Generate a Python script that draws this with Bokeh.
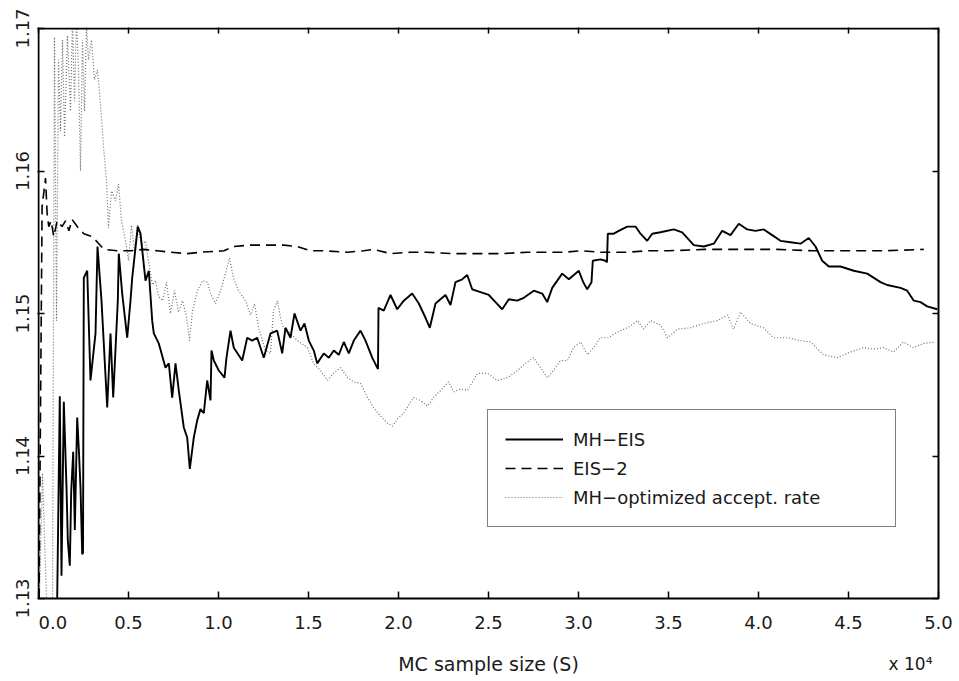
from bokeh.plotting import figure
from bokeh.models import (Range1d, FixedTicker, CustomJSTickFormatter, LinearAxis,
                          Legend, LegendItem, Label)
from bokeh.embed import file_html
from bokeh.resources import INLINE

# ---------------- data (x = MC sample size S, y = estimate) ----------------
mh_eis_x = [1039, 1183, 1278, 1406, 1556, 1628, 1739, 1817, 1928, 2017, 2150, 2239, 2333, 2428,
            2472, 2517, 2706, 2889, 3167, 3278, 3500, 3817, 4000, 4150, 4406, 4461, 4650, 4928,
            5111, 5206, 5517, 5667, 5944, 6128, 6317, 6406, 6683, 7056, 7239, 7428, 7611, 7794,
            8072, 8261, 8406, 8628, 8817, 9000, 9183, 9372, 9556, 9611, 9739, 10017, 10333,
            10444, 10667, 10850, 11317, 11594, 11872, 12150, 12517, 12889, 13261, 13539, 13722,
            14000, 14222, 14556, 14778, 15017, 15294, 15483, 15850, 16128, 16406, 16683, 16961,
            17239, 17517, 17889, 18167, 18539, 18817, 18861, 18889, 19183, 19556, 19928, 20294,
            20761, 21128, 21500, 21739, 22056, 22611, 22889, 23167, 23539, 23817, 24094, 24556,
            25017, 25389, 25761, 26128, 26594, 26961, 27517, 27983, 28261, 28539, 29094, 29461,
            29739, 30017, 30261, 30483, 30722, 30794, 31222, 31500, 31583, 31628, 31961, 32239,
            32706, 33167, 33444, 33817, 34094, 34556, 35294, 35761, 36406, 36961, 37517, 37983,
            38444, 38906, 39372, 39833, 40294, 40761, 41222, 41778, 42333, 42794, 43167, 43539,
            43906, 44556, 45294, 46039, 46778, 47150, 47889, 48261, 48628, 49000, 49372, 49928]
mh_eis_y = [1.1300, 1.1442, 1.1316, 1.1438, 1.1378, 1.1341, 1.1323, 1.1375, 1.1403, 1.1348,
            1.1427, 1.1405, 1.1378, 1.1331, 1.1332, 1.1525, 1.1530, 1.1453, 1.1486, 1.1547,
            1.1509, 1.1434, 1.1486, 1.1441, 1.1509, 1.1542, 1.1514, 1.1483, 1.1509, 1.1525,
            1.1561, 1.1556, 1.1523, 1.1530, 1.1495, 1.1486, 1.1479, 1.1462, 1.1465, 1.1441,
            1.1465, 1.1446, 1.1420, 1.1413, 1.1391, 1.1413, 1.1425, 1.1433, 1.1430, 1.1453,
            1.1439, 1.1474, 1.1467, 1.1460, 1.1455, 1.1469, 1.1488, 1.1476, 1.1467, 1.1483,
            1.1481, 1.1483, 1.1469, 1.1486, 1.1488, 1.1472, 1.1490, 1.1483, 1.1500, 1.1488,
            1.1493, 1.1481, 1.1474, 1.1465, 1.1472, 1.1469, 1.1474, 1.1471, 1.1480, 1.1472,
            1.1481, 1.1488, 1.1481, 1.1469, 1.1462, 1.1461, 1.1504, 1.1502, 1.1513, 1.1503,
            1.1509, 1.1514, 1.1507, 1.1497, 1.1490, 1.1507, 1.1513, 1.1506, 1.1522, 1.1524,
            1.1527, 1.1517, 1.1515, 1.1513, 1.1508, 1.1503, 1.1510, 1.1509, 1.1511, 1.1516,
            1.1514, 1.1508, 1.1518, 1.1528, 1.1524, 1.1527, 1.1530, 1.1522, 1.1517, 1.1522,
            1.1537, 1.1538, 1.1537, 1.1536, 1.1556, 1.1556, 1.1558, 1.1561, 1.1561, 1.1556,
            1.1551, 1.1556, 1.1557, 1.1559, 1.1557, 1.1548, 1.1547, 1.1549, 1.1558, 1.1555,
            1.1563, 1.1559, 1.1558, 1.1559, 1.1555, 1.1551, 1.1550, 1.1549, 1.1553, 1.1547,
            1.1537, 1.1533, 1.1533, 1.1530, 1.1528, 1.1522, 1.1520, 1.1518, 1.1516, 1.1509,
            1.1508, 1.1505, 1.1503]

eis2_x = [30, 200, 390, 480, 570, 700, 850, 1040, 1310, 1500, 1690, 1870, 2150, 2520, 2980,
          3350, 3630, 4370, 5110, 5850, 6590, 7330, 8260, 9000, 10300, 10850, 11780, 12890,
          13630, 14370, 15110, 15850, 17150, 18070, 18630, 19560, 20670, 21590, 23070, 24370,
          25670, 27150, 28260, 29180, 30110, 31220, 32700, 33820, 35000, 37000, 39000, 41000,
          43000, 45000, 47000, 49180]
eis2_y = [1.1300, 1.1575, 1.1595, 1.1570, 1.1561, 1.1565, 1.1554, 1.1565, 1.1561, 1.1565,
          1.1558, 1.1566, 1.1561, 1.1556, 1.1554, 1.1549, 1.1545, 1.1544, 1.1544, 1.1545,
          1.1544, 1.1543, 1.1542, 1.1543, 1.1544, 1.1547, 1.1548, 1.1548, 1.1548, 1.1547,
          1.1544, 1.1544, 1.1543, 1.1544, 1.1545, 1.1542, 1.1543, 1.1543, 1.1542, 1.1542,
          1.1542, 1.1543, 1.1543, 1.1543, 1.1544, 1.1543, 1.1543, 1.1544, 1.1544, 1.1545,
          1.1545, 1.1545, 1.1544, 1.1544, 1.1544, 1.1545]

mh_opt_x = [50, 222, 444, 778, 889, 1000, 1111, 1222, 1333, 1444, 1611, 1778, 1889, 2000,
            2111, 2222, 2333, 2444, 2556, 2667, 2778, 2944, 3111, 3278, 3444, 3611, 3778, 3889,
            4056, 4278, 4444, 4611, 4833, 5000, 5167, 5333, 5500, 5722, 5944, 6111, 6333, 6500,
            6667, 6889, 7111, 7333, 7556, 7778, 8000, 8222, 8389, 8556, 8833, 9111, 9389, 9556,
            9833, 10111, 10389, 10611, 10833, 11111, 11500, 11778, 12000, 12222, 12444, 12611,
            12889, 13056, 13278, 13444, 13611, 14000, 14389, 14944, 15278, 15667, 16056, 16389,
            16778, 17167, 17500, 17889, 18278, 18611, 19000, 19389, 19667, 19944, 20278, 20833,
            21222, 21611, 21944, 22333, 22778, 23056, 23444, 23833, 24389, 24944, 25500, 26056,
            26611, 27056, 27500, 27889, 28278, 28611, 29000, 29389, 29722, 30111, 30500, 30833,
            31222, 31667, 32167, 32722, 33278, 33611, 34000, 34556, 34944, 35500, 36222, 36944,
            37722, 38278, 38611, 39000, 39556, 40278, 40833, 41611, 42333, 42889, 43611, 44389,
            45111, 45833, 46389, 46944, 47500, 48056, 48611, 49167, 49833]
mh_opt_y = [1.1300, 1.1388, 1.1300, 1.1300, 1.1694, 1.1495, 1.1678, 1.1628, 1.1692, 1.1624,
            1.1695, 1.1642, 1.1706, 1.1649, 1.1709, 1.1671, 1.1600, 1.1692, 1.1642, 1.1702,
            1.1678, 1.1692, 1.1664, 1.1671, 1.1647, 1.1617, 1.1593, 1.1560, 1.1586, 1.1579,
            1.1591, 1.1565, 1.1551, 1.1537, 1.1562, 1.1544, 1.1562, 1.1548, 1.1551, 1.1537,
            1.1520, 1.1523, 1.1512, 1.1509, 1.1522, 1.1500, 1.1516, 1.1501, 1.1509, 1.1498,
            1.1481, 1.1502, 1.1516, 1.1523, 1.1522, 1.1514, 1.1507, 1.1516, 1.1528, 1.1539,
            1.1525, 1.1516, 1.1509, 1.1499, 1.1507, 1.1490, 1.1481, 1.1474, 1.1472, 1.1502,
            1.1509, 1.1497, 1.1490, 1.1486, 1.1481, 1.1476, 1.1465, 1.1460, 1.1453, 1.1458,
            1.1462, 1.1455, 1.1452, 1.1451, 1.1441, 1.1434, 1.1428, 1.1423, 1.1421, 1.1426,
            1.1430, 1.1441, 1.1439, 1.1435, 1.1441, 1.1446, 1.1452, 1.1445, 1.1447, 1.1446,
            1.1458, 1.1458, 1.1453, 1.1455, 1.1460, 1.1465, 1.1469, 1.1462, 1.1455, 1.1460,
            1.1467, 1.1467, 1.1476, 1.1480, 1.1471, 1.1476, 1.1483, 1.1483, 1.1487, 1.1490,
            1.1495, 1.1489, 1.1495, 1.1492, 1.1483, 1.1489, 1.1490, 1.1493, 1.1495, 1.1499,
            1.1489, 1.1501, 1.1493, 1.1490, 1.1483, 1.1483, 1.1481, 1.1480, 1.1471, 1.1469,
            1.1473, 1.1476, 1.1475, 1.1476, 1.1473, 1.1480, 1.1476, 1.1479, 1.1480]

x_ticks = [0, 5000, 10000, 15000, 20000, 25000, 30000, 35000, 40000, 45000, 50000]
y_ticks = [1.13, 1.14, 1.15, 1.16, 1.17]
series_names = ["MH\u2212EIS", "EIS\u22122", "MH\u2212optimized accept. rate"]
x_label = "MC sample size (S)"
x_scale_note = "x 10\u2074"

X0, X1 = 0, 50000
Y0, Y1 = 1.13, 1.17

# layout (pixels)
BOX_W, BOX_H = 900, 570      # data box
PAD = 1                      # frame 1px larger than data box at left/top
EXT_R = 17                   # room right of the box (last tick label)
EXT_B = 80                   # room under the box for the x-axis texts
px_x = (X1 - X0) / BOX_W
px_y = (Y1 - Y0) / BOX_H

FONT = "DejaVu Sans"
INK = "#1a1a1a"

p = figure(output_backend="svg", toolbar_location=None,
           x_range=Range1d(X0 - PAD * px_x, X1 + EXT_R * px_x),
           y_range=Range1d(Y0 - EXT_B * px_y, Y1 + PAD * px_y),
           frame_width=BOX_W + PAD + EXT_R, frame_height=BOX_H + PAD + EXT_B,
           min_border_left=37, min_border_top=27, min_border_right=2, min_border_bottom=0)
p.background_fill_color = "white"
p.border_fill_color = "white"
p.outline_line_color = None
p.grid.visible = False

xfmt = CustomJSTickFormatter(code="return tick == 0 ? '' : (tick/10000).toFixed(1);")
yfmt = CustomJSTickFormatter(code="return tick.toFixed(2);")
blank = CustomJSTickFormatter(code="return '';")

xa = p.xaxis[0]
xa.ticker = FixedTicker(ticks=x_ticks)
xa.formatter = xfmt
xa.fixed_location = Y0
ya = p.yaxis[0]
ya.ticker = FixedTicker(ticks=y_ticks)
ya.formatter = yfmt
ya.major_label_orientation = "vertical"

for ax in (xa, ya):
    ax.axis_line_color = None
    ax.major_tick_in = 7
    ax.major_tick_out = 0
    ax.major_tick_line_color = "black"
    ax.major_tick_line_width = 1.5
    ax.minor_tick_line_color = None
    ax.major_label_text_font = FONT
    ax.major_label_text_font_size = "18px"
    ax.major_label_text_color = INK
xa.major_label_standoff = 17
ya.major_label_standoff = 9

top = LinearAxis(ticker=FixedTicker(ticks=x_ticks), formatter=blank, axis_line_color=None,
                 major_tick_in=6, major_tick_out=0, minor_tick_line_color=None,
                 major_label_standoff=0, major_tick_line_width=1.5)
right = LinearAxis(ticker=FixedTicker(ticks=y_ticks), formatter=blank, axis_line_color=None,
                   major_tick_in=6, major_tick_out=0, minor_tick_line_color=None,
                   major_label_standoff=0, major_tick_line_width=1.5, fixed_location=X1)
p.add_layout(top, "above")
p.add_layout(right, "right")

r_opt = p.line(mh_opt_x, mh_opt_y, line_color="#6e6e6e", line_width=1.2, line_dash="1 2")
r_eis2 = p.line(eis2_x, eis2_y, line_color="black", line_width=1.6, line_dash="10 6")
r_mh = p.line(mh_eis_x, mh_eis_y, line_color="black", line_width=1.9)

# frame box around the data area
p.quad(left=[X0], right=[X1], bottom=[Y0], top=[Y1], fill_color=None,
       line_color="black", line_width=2)

legend = Legend(items=[LegendItem(label=series_names[0], renderers=[r_mh]),
                       LegendItem(label=series_names[1], renderers=[r_eis2]),
                       LegendItem(label=series_names[2], renderers=[r_opt])],
                location=(450, 151), orientation="vertical",
                border_line_color="black", border_line_width=1.5,
                background_fill_color="white", background_fill_alpha=1,
                label_text_font=FONT, label_text_font_size="18px", label_text_color=INK,
                glyph_width=58, glyph_height=24, label_height=24, label_width=305,
                label_standoff=10, padding=17, spacing=5, margin=0)
p.add_layout(legend)

p.add_layout(Label(x=X0, y=Y0, text="0.0", text_align="left", text_baseline="top",
                   y_offset=-17, text_font=FONT, text_font_size="18px", text_color=INK))
p.add_layout(Label(x=(X0 + X1) / 2, y=Y0, text=x_label, text_align="center",
                   text_baseline="middle", y_offset=-65,
                   text_font=FONT, text_font_size="19px", text_color=INK))
p.add_layout(Label(x=X1, y=Y0, text=x_scale_note, text_align="right",
                   text_baseline="middle", y_offset=-65, x_offset=-6,
                   text_font=FONT, text_font_size="17px", text_color=INK))

open("out.html", "w").write(file_html(p, INLINE))
